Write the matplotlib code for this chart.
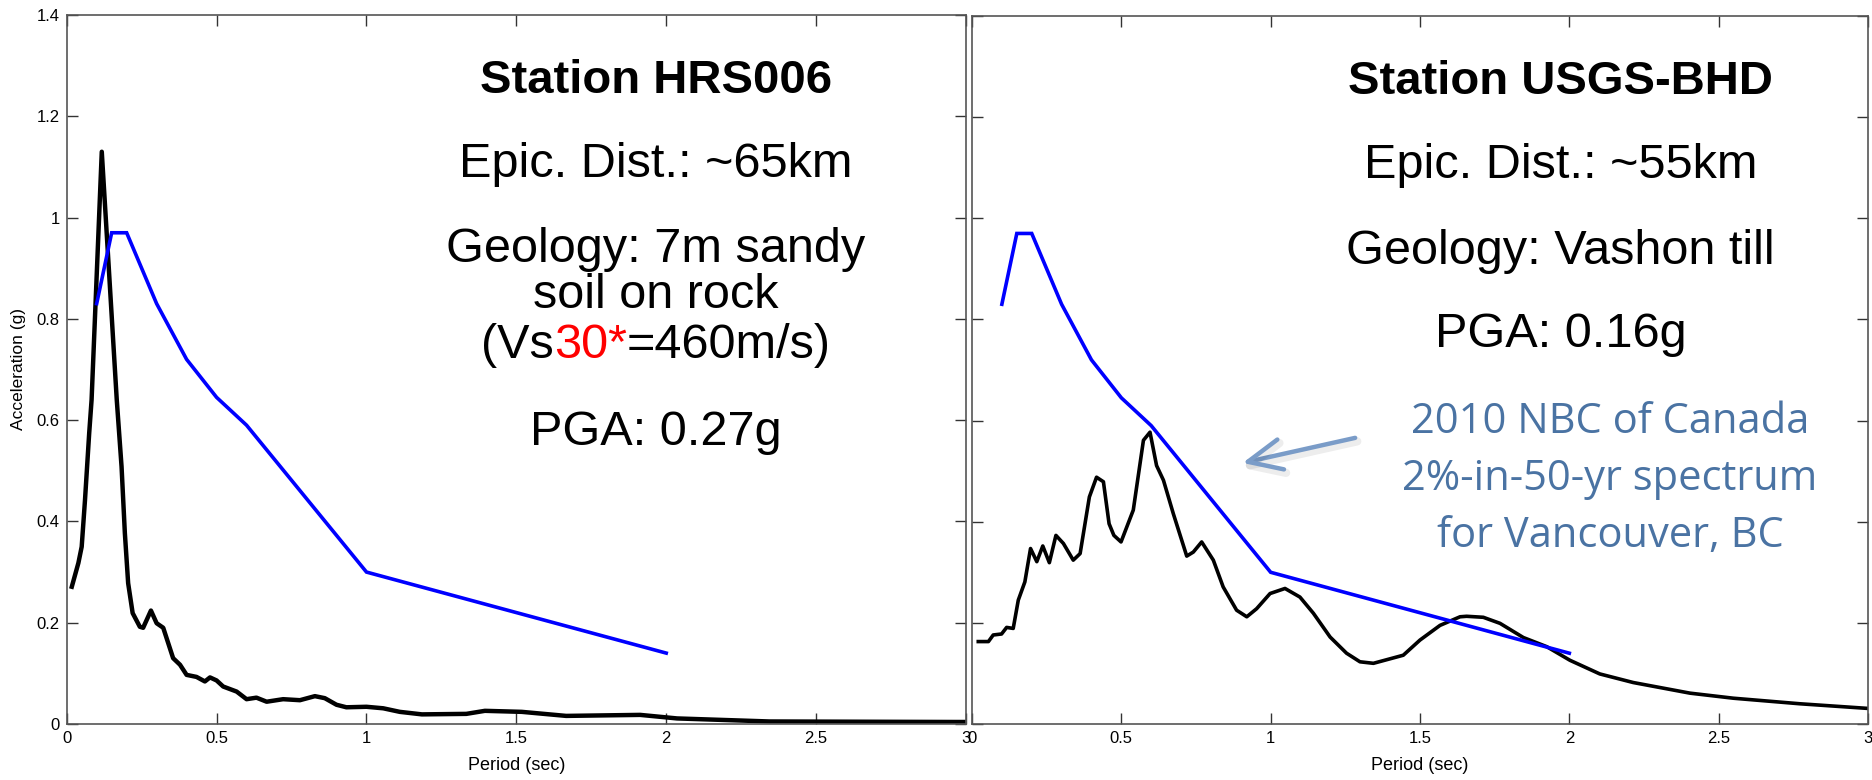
import matplotlib
matplotlib.use("Agg")
import matplotlib.pyplot as plt
import matplotlib.transforms as mtransforms
import matplotlib.patheffects as pe

# ---------------- data ----------------
nbc_period = [0.1, 0.15, 0.2, 0.3, 0.4, 0.5, 0.6, 1.0, 2.0]
nbc_sa = [0.83, 0.97, 0.97, 0.83, 0.72, 0.645, 0.59, 0.30, 0.14]

hrs_period = [0.017, 0.039, 0.05, 0.061, 0.075, 0.083, 0.117, 0.167, 0.183, 0.194,
              0.205, 0.22, 0.244, 0.255, 0.281, 0.3, 0.322, 0.355, 0.378, 0.4,
              0.433, 0.461, 0.478, 0.5, 0.522, 0.567, 0.6, 0.633, 0.667, 0.722,
              0.778, 0.828, 0.861, 0.9, 0.933, 1.0, 1.056, 1.111, 1.185, 1.333,
              1.395, 1.518, 1.666, 1.913, 2.036, 2.344, 2.96, 3.0]
hrs_sa = [0.271, 0.318, 0.35, 0.442, 0.574, 0.64, 1.13, 0.64, 0.508, 0.377,
          0.278, 0.219, 0.192, 0.19, 0.224, 0.199, 0.19, 0.13, 0.117, 0.097,
          0.093, 0.084, 0.092, 0.086, 0.074, 0.064, 0.049, 0.052, 0.044, 0.049,
          0.047, 0.055, 0.051, 0.038, 0.033, 0.034, 0.031, 0.024, 0.019, 0.020,
          0.026, 0.024, 0.016, 0.018, 0.011, 0.005, 0.004, 0.004]

bhd_period = [0.021, 0.055, 0.071, 0.099, 0.116, 0.138, 0.155, 0.177, 0.196, 0.217,
              0.237, 0.259, 0.281, 0.306, 0.339, 0.362, 0.393, 0.417, 0.44, 0.459,
              0.475, 0.499, 0.54, 0.574, 0.596, 0.618, 0.641, 0.674, 0.719, 0.741,
              0.769, 0.808, 0.841, 0.886, 0.92, 0.953, 0.998, 1.048, 1.098, 1.143,
              1.199, 1.254, 1.299, 1.344, 1.444, 1.5, 1.567, 1.634, 1.656, 1.712,
              1.768, 1.846, 1.924, 2.002, 2.102, 2.214, 2.404, 2.549, 2.772, 2.995]
bhd_sa = [0.163, 0.163, 0.176, 0.178, 0.191, 0.189, 0.245, 0.281, 0.347, 0.321,
          0.352, 0.319, 0.373, 0.357, 0.324, 0.337, 0.449, 0.488, 0.479, 0.396,
          0.373, 0.36, 0.423, 0.561, 0.577, 0.511, 0.482, 0.416, 0.332, 0.340,
          0.36, 0.324, 0.271, 0.225, 0.212, 0.228, 0.258, 0.268, 0.251, 0.219,
          0.172, 0.14, 0.123, 0.12, 0.136, 0.166, 0.195, 0.212, 0.213, 0.211,
          0.199, 0.171, 0.153, 0.126, 0.099, 0.082, 0.061, 0.051, 0.04, 0.031]

x_ticks = [0, 0.5, 1, 1.5, 2, 2.5, 3]
x_tick_labels = ["0", "0.5", "1", "1.5", "2", "2.5", "3"]
y_ticks = [0, 0.2, 0.4, 0.6, 0.8, 1.0, 1.2, 1.4]
y_tick_labels = ["0", "0.2", "0.4", "0.6", "0.8", "1", "1.2", "1.4"]

left_lines = ["Station HRS006", "Epic. Dist.: ~65km", "Geology: 7m sandy",
              "soil on rock", None, "PGA: 0.27g"]
left_baselines = [1.246, 1.080, 0.912, 0.821, 0.723, 0.551]
vs_parts = [("(Vs", "black"), ("30*", "red"), ("=460m/s)", "black")]

right_lines = ["Station USGS-BHD", "Epic. Dist.: ~55km", "Geology: Vashon till", "PGA: 0.16g"]
right_baselines = [1.246, 1.080, 0.910, 0.745]

note_lines = ["2010 NBC of Canada", "2%-in-50-yr spectrum", "for Vancouver, BC"]
note_baselines = [0.575, 0.462, 0.350]

# ---------------- figure ----------------
plt.rcParams['font.family'] = ['Liberation Sans', 'DejaVu Sans']
fig = plt.figure(figsize=(18.72, 7.8), dpi=100)
W, H = 1872.0, 780.0
ax1 = fig.add_axes([66.7 / W, 56 / H, 899.3 / W, 709 / H])
ax2 = fig.add_axes([972 / W, 56 / H, 896 / W, 708 / H])

for ax in (ax1, ax2):
    ax.set_xlim(0, 3)
    ax.set_ylim(0, 1.4)
    ax.set_xticks(x_ticks)
    ax.set_xticklabels(x_tick_labels)
    ax.set_yticks(y_ticks)
    ax.tick_params(direction='in', length=8, width=1, color='#333333',
                   top=True, right=True, labelsize=12, pad=5)
    for s in ax.spines.values():
        s.set_color('#555555')
        s.set_linewidth(1.2)
    ax.set_xlabel("Period (sec)", fontsize=13, labelpad=8)
    ax.plot(nbc_period, nbc_sa, color='#0000ff', lw=2.6, solid_joinstyle='miter', zorder=3)

ax1.set_yticklabels(y_tick_labels)
ax2.set_yticklabels([])
ax1.set_ylabel("Acceleration (g)", fontsize=12.5, labelpad=8)

ax1.plot(hrs_period, hrs_sa, color='black', lw=3.2, zorder=2)
ax2.plot(bhd_period, bhd_sa, color='black', lw=2.6, zorder=2)

TX = 1.965
for i, (txt, yb) in enumerate(zip(left_lines, left_baselines)):
    if txt is None:
        continue
    ax1.text(TX, yb, txt, ha='center', va='baseline',
             fontsize=34 if i == 0 else 35, fontweight='bold' if i == 0 else 'normal')

for i, (txt, yb) in enumerate(zip(right_lines, right_baselines)):
    ax2.text(1.97, yb, txt, ha='center', va='baseline',
             fontsize=34 if i == 0 else 35, fontweight='bold' if i == 0 else 'normal')

# multi-coloured line "(Vs30*=460m/s)"
renderer = fig.canvas.get_renderer()
widths = []
for s, c in vs_parts:
    t = ax1.text(0, 0, s, fontsize=35)
    widths.append(t.get_window_extent(renderer).width)
    t.remove()
total = sum(widths)
off = -total / 2.0
for (s, c), w in zip(vs_parts, widths):
    tr = mtransforms.offset_copy(ax1.transData, fig=fig, x=off * 72.0 / fig.dpi, y=0, units='points')
    ax1.text(TX, left_baselines[4], s, color=c, fontsize=35, ha='left', va='baseline', transform=tr)
    off += w

for txt, yb in zip(note_lines, note_baselines):
    ax2.text(2.136, yb, txt, ha='center', va='baseline', fontsize=30,
             color='#4a73a3', family=['Open Sans', 'DejaVu Sans'])

ax2.annotate("", xy=(0.897, 0.515), xytext=(1.292, 0.567), xycoords='data',
             arrowprops=dict(arrowstyle='->,head_length=1.1,head_width=0.5',
                             color='#7a9cc8', lw=3.2, mutation_scale=22,
                             capstyle='round', joinstyle='round',
                             path_effects=[pe.SimpleLineShadow(offset=(1.5, -2.5), alpha=0.07,
                                                               linewidth=6),
                                           pe.Normal()]))

fig.savefig("out.png", dpi=100, facecolor='white')
